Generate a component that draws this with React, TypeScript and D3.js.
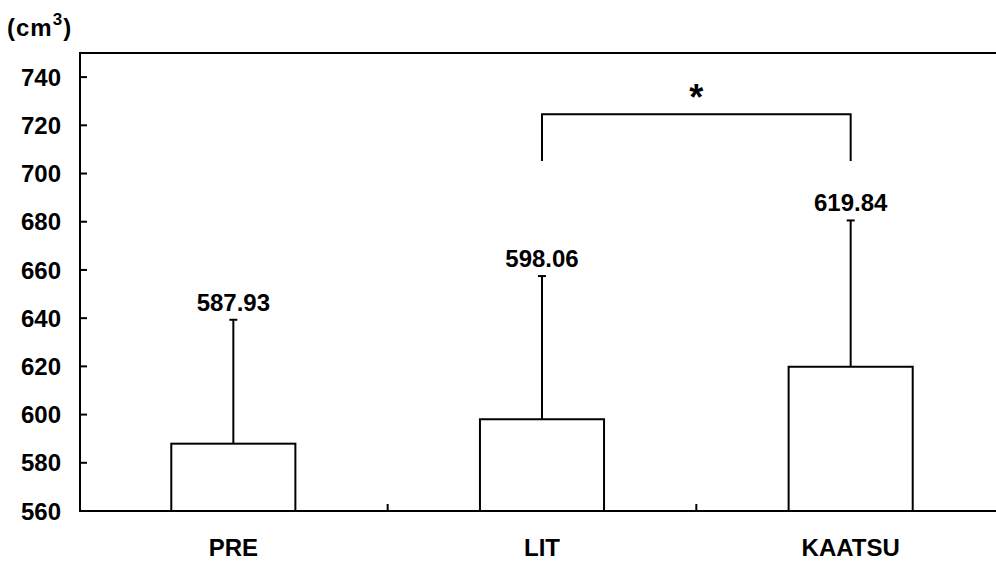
import React from "react";
import * as d3 from "d3";

const categories = ["PRE", "LIT", "KAATSU"];
const means = [587.93, 598.06, 619.84];
const sds = [51.4, 59.4, 60.7];
const meanLabels = ["587.93", "598.06", "619.84"];
const yTicks = [560, 580, 600, 620, 640, 660, 680, 700, 720, 740];
const bracketPair = ["LIT", "KAATSU"];
const bracketTop = 724.6;
const bracketBottom = 705.2;
const unitLabel = "(cm";
const unitSup = "3";

const W = 996;
const H = 561;
const FONT = "'Liberation Sans', Arial, sans-serif";

export default function App() {
  const left = 80;
  const right = 1005;
  const top = 53;
  const bottom = 511;

  const x = d3.scaleBand<string>().domain(categories).range([left - 1, right]).padding(0);
  const y = d3.scaleLinear().domain([560, 750]).range([bottom, top]);
  const barW = x.bandwidth() * 0.402;
  const cx = (c: string) => (x(c) as number) + x.bandwidth() / 2;
  const capW = 8;

  const bx1 = cx(bracketPair[0]);
  const bx2 = cx(bracketPair[1]);

  return (
    <svg
      width={W}
      height={H}
      style={{ position: "fixed", left: 0, top: 0, background: "#fff" }}
      fontFamily={FONT}
      fontWeight="bold"
    >
      <rect x={0} y={0} width={W} height={H} fill="#fff" />
      {/* unit label */}
      <text x={7} y={36} fontSize={24} fill="#000" letterSpacing={1}>
        {unitLabel}
        <tspan fontSize={17} dy={-11}>{unitSup}</tspan>
        <tspan dy={11}>)</tspan>
      </text>

      {/* frame */}
      <rect x={left} y={top} width={right - left} height={bottom - top} fill="none" stroke="#000" strokeWidth={2} />

      {/* y ticks */}
      {yTicks.map((t) => (
        <g key={t}>
          <line x1={left} x2={left + 7} y1={y(t)} y2={y(t)} stroke="#000" strokeWidth={2} />
          <text x={61} y={y(t)} dy="0.36em" textAnchor="end" fontSize={24} fill="#000">
            {t}
          </text>
        </g>
      ))}

      {/* x category boundary ticks */}
      {categories.slice(1).map((c) => (
        <line key={c} x1={x(c) as number} x2={x(c) as number} y1={bottom} y2={bottom - 7} stroke="#000" strokeWidth={2} />
      ))}

      {/* bars */}
      {categories.map((c, i) => {
        const xc = cx(c);
        const yTop = y(means[i]);
        const yErr = y(means[i] + sds[i]);
        return (
          <g key={c}>
            <line x1={xc} x2={xc} y1={yTop} y2={yErr} stroke="#000" strokeWidth={2} />
            <line x1={xc - capW / 2} x2={xc + capW / 2} y1={yErr} y2={yErr} stroke="#000" strokeWidth={2} />
            <rect x={xc - barW / 2} y={yTop} width={barW} height={bottom - yTop} fill="#fff" stroke="#000" strokeWidth={2} />
            <text x={xc} y={yErr - 9} textAnchor="middle" fontSize={24} fill="#000">
              {meanLabels[i]}
            </text>
            <text x={xc} y={556} textAnchor="middle" fontSize={24} fill="#000">
              {c}
            </text>
          </g>
        );
      })}

      {/* significance bracket */}
      <path
        d={`M${bx1},${y(bracketBottom)}V${y(bracketTop)}H${bx2}V${y(bracketBottom)}`}
        fill="none"
        stroke="#000"
        strokeWidth={2}
      />
      <text x={(bx1 + bx2) / 2} y={110} textAnchor="middle" fontSize={36} fill="#000">
        *
      </text>
    </svg>
  );
}
